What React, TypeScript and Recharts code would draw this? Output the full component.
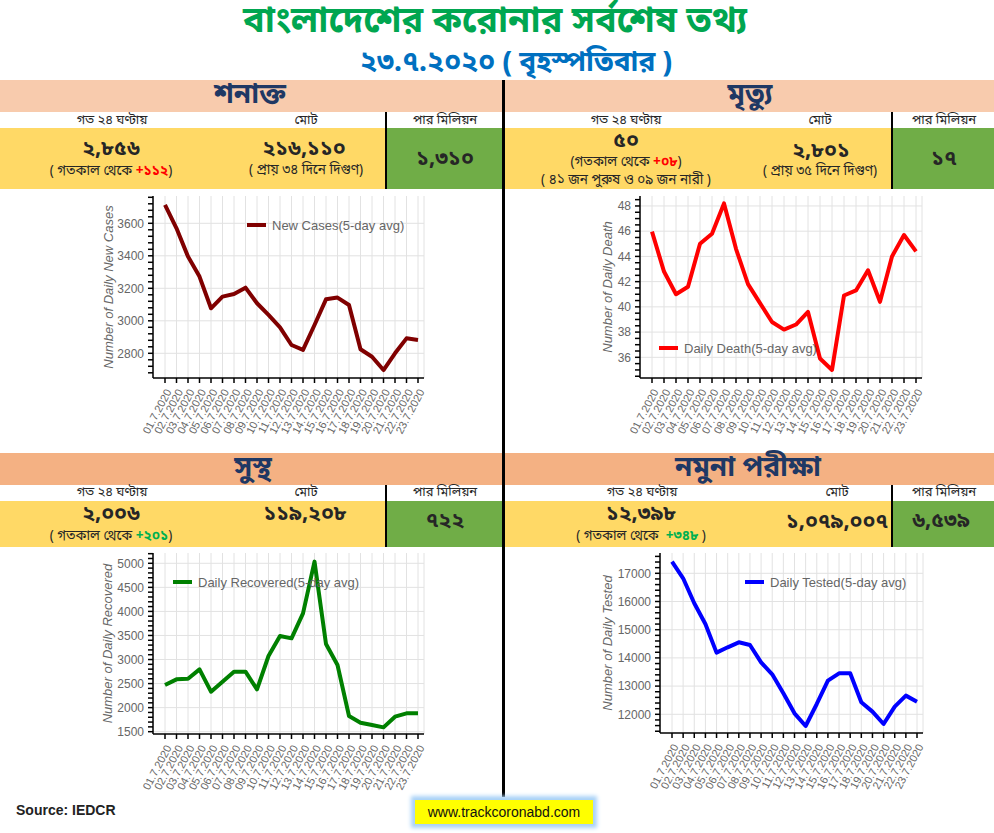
import React from "react";
import { CartesianGrid, Line, LineChart, XAxis, YAxis } from "recharts";

const dates = [
  "01.7.2020", "02.7.2020", "03.7.2020", "04.7.2020", "05.7.2020", "06.7.2020",
  "07.7.2020", "08.7.2020", "09.7.2020", "10.7.2020", "11.7.2020", "12.7.2020",
  "13.7.2020", "14.7.2020", "15.7.2020", "16.7.2020", "17.7.2020", "18.7.2020",
  "19.7.2020", "20.7.2020", "21.7.2020", "22.7.2020", "23.7.2020",
];

const newCases = [3713, 3569, 3395, 3272, 3077, 3149, 3165, 3204, 3108, 3036, 2960, 2851, 2821, 2974, 3132, 3143, 3097, 2825, 2779, 2697, 2800, 2892, 2882];
const deaths = [45.96, 42.8, 41.0, 41.6, 45.0, 45.8, 48.2, 44.6, 41.8, 40.3, 38.8, 38.2, 38.6, 39.6, 35.9, 35.0, 40.9, 41.3, 42.9, 40.4, 44.0, 45.7, 44.4];
const recovered = [2470, 2588, 2600, 2796, 2332, 2540, 2747, 2747, 2380, 3073, 3489, 3440, 3960, 5035, 3323, 2886, 1826, 1687, 1638, 1590, 1812, 1881, 1881];
const tested = [17414, 16823, 15936, 15203, 14187, 14376, 14553, 14459, 13844, 13418, 12745, 12035, 11586, 12366, 13194, 13454, 13454, 12425, 12094, 11657, 12272, 12662, 12449];

const newCasesTicks = [2800, 3000, 3200, 3400, 3600];
const deathTicks = [36, 38, 40, 42, 44, 46, 48];
const recoveredTicks = [1500, 2000, 2500, 3000, 3500, 4000, 4500, 5000];
const testedTicks = [12000, 13000, 14000, 15000, 16000, 17000];

const BN = "'Noto Sans Bengali','Lohit Bengali','Noto Sans',sans-serif";
const SANS = "'Liberation Sans', Arial, sans-serif";

function minorTicks(domain: number[], step: number) {
  const out: number[] = [];
  for (let i = Math.ceil(domain[0] / step); i <= Math.floor(domain[1] / step); i++) {
    out.push(i * step);
  }
  return out;
}

type ChartProps = {
  left: number;
  top: number;
  width: number;
  height: number;
  values: number[];
  color: string;
  domain: number[];
  majors: number[];
  step: number;
  yLabel: string;
  yAxisWidth: number;
  labelOffset: number;
  legend: string;
  legendLeft: number;
  legendTop: number;
};

// width = distance from left edge to the right end of the plot; 24px extra keep rotated labels whole
function StatChart(p: ChartProps) {
  const rows = dates.map((d, i) => ({ date: d, value: p.values[i] }));
  const ticks = minorTicks(p.domain, p.step);
  return (
    <div style={{ position: "absolute", left: p.left, top: p.top }}>
      <LineChart
        width={p.width + 24}
        height={p.height}
        data={rows}
        margin={{ top: 10, right: 24, left: 0, bottom: 0 }}
      >
        <CartesianGrid stroke="#e2e2e2" horizontalValues={p.majors} />
        <XAxis
          dataKey="date"
          interval={0}
          height={70}
          padding={{ left: 12, right: 6 }}
          angle={-62}
          textAnchor="end"
          tickSize={5}
          tickMargin={5}
          tick={{ fontSize: 11, fill: "#666", fontFamily: SANS }}
          stroke="#000"
          strokeWidth={1.5}
        />
        <YAxis
          type="number"
          domain={p.domain}
          ticks={ticks}
          interval={0}
          width={p.yAxisWidth}
          tickSize={5}
          tickMargin={4}
          allowDataOverflow
          tickFormatter={(v: number) => (p.majors.includes(v) ? String(v) : "")}
          tick={{ fontSize: 12, fill: "#666", fontFamily: SANS }}
          stroke="#000"
          strokeWidth={1.5}
          label={{
            value: p.yLabel,
            angle: -90,
            position: "insideLeft",
            offset: p.labelOffset,
            style: { textAnchor: "middle", fontSize: 13, fill: "#666", fontStyle: "italic", fontFamily: SANS },
          }}
        />
        <Line
          type="linear"
          dataKey="value"
          stroke={p.color}
          strokeWidth={4}
          strokeLinejoin="round"
          dot={false}
          isAnimationActive={false}
        />
      </LineChart>
      <div
        style={{
          position: "absolute",
          left: p.legendLeft,
          top: p.legendTop - 8,
          height: 16,
          display: "flex",
          alignItems: "center",
          whiteSpace: "nowrap",
          fontFamily: SANS,
          fontSize: 13,
          color: "#666",
        }}
      >
        <span style={{ display: "inline-block", width: 19, height: 4, background: p.color, marginRight: 6 }} />
        {p.legend}
      </div>
    </div>
  );
}

function T({ x, y, size, color = "#262626", bold = false, children, font = BN }: any) {
  return (
    <div
      style={{
        position: "absolute",
        left: x,
        top: y,
        transform: "translate(-50%,-50%)",
        whiteSpace: "nowrap",
        fontSize: size,
        color,
        fontWeight: bold ? 700 : 400,
        fontFamily: font,
        lineHeight: 1,
      }}
    >
      {children}
    </div>
  );
}

function Box({ x, y, w, h, bg }: any) {
  return <div style={{ position: "absolute", left: x, top: y, width: w, height: h, background: bg }} />;
}

export default function App() {
  const red = { color: "#ff0000", fontWeight: 700 };
  const green = { color: "#00b050", fontWeight: 700 };
  return (
    <div
      style={{
        position: "absolute",
        left: 0,
        top: 0,
        width: 994,
        height: 833,
        background: "#fff",
        overflow: "hidden",
      }}
    >
      <T x={495} y={23} size={36} color="#00a650" bold>বাংলাদেশের করোনার সর্বশেষ তথ্য</T>
      <T x={516} y={64} size={28} color="#0070c0" bold>২৩.৭.২০২০ ( বৃহস্পতিবার )</T>

      {/* top band */}
      <Box x={0} y={80} w={994} h={32} bg="#f8cbad" />
      <Box x={0} y={128} w={994} h={61} bg="#ffd966" />
      <Box x={387} y={128} w={115} h={61} bg="#70ad47" />
      <Box x={893} y={128} w={101} h={61} bg="#70ad47" />
      <Box x={385} y={112} w={2} h={77} bg="#000" />
      <Box x={891} y={112} w={2} h={77} bg="#000" />

      {/* bottom band */}
      <Box x={0} y={453} w={994} h={32} bg="#f4b183" />
      <Box x={0} y={501} w={994} h={46} bg="#ffd966" />
      <Box x={387} y={501} w={115} h={46} bg="#70ad47" />
      <Box x={893} y={501} w={101} h={46} bg="#70ad47" />
      <Box x={385} y={485} w={2} h={62} bg="#000" />
      <Box x={891} y={485} w={2} h={62} bg="#000" />

      <Box x={502} y={80} w={3} h={717} bg="#000" />

      <T x={250} y={96} size={28} color="#1f3864" bold>শনাক্ত</T>
      <T x={750} y={96} size={28} color="#1f3864" bold>মৃত্যু</T>
      <T x={112} y={120} size={13}>গত ২৪ ঘণ্টায়</T>
      <T x={306} y={120} size={13}>মোট</T>
      <T x={445} y={120} size={13}>পার মিলিয়ন</T>
      <T x={626} y={120} size={13}>গত ২৪ ঘণ্টায়</T>
      <T x={820} y={120} size={13}>মোট</T>
      <T x={944} y={120} size={13}>পার মিলিয়ন</T>

      <T x={111} y={150} size={21} bold>২,৮৫৬</T>
      <T x={111} y={173} size={13.5}>( গতকাল থেকে <span style={red}>+১১২</span>)</T>
      <T x={304} y={150} size={21} bold>২১৬,১১০</T>
      <T x={306} y={172} size={13.5}>( প্রায় ৩৪ দিনে দিগুণ)</T>
      <T x={445} y={160} size={21} bold>১,৩১০</T>
      <T x={626} y={142} size={21} bold>৫০</T>
      <T x={626} y={164} size={13.5}>(গতকাল থেকে <span style={red}>+০৮</span>)</T>
      <T x={626} y={182} size={13.5}>( ৪১ জন পুরুষ ও ০৯ জন নারী )</T>
      <T x={821} y={152} size={21} bold>২,৮০১</T>
      <T x={820} y={173} size={13.5}>( প্রায় ৩৫ দিনে দিগুণ)</T>
      <T x={944} y={160} size={21} bold>১৭</T>

      <T x={253} y={469} size={28} color="#1f3864" bold>সুস্থ</T>
      <T x={748} y={469} size={28} color="#1f3864" bold>নমুনা পরীক্ষা</T>
      <T x={112} y={492} size={13}>গত ২৪ ঘণ্টায়</T>
      <T x={306} y={492} size={13}>মোট</T>
      <T x={445} y={492} size={13}>পার মিলিয়ন</T>
      <T x={642} y={492} size={13}>গত ২৪ ঘণ্টায়</T>
      <T x={837} y={492} size={13}>মোট</T>
      <T x={944} y={492} size={13}>পার মিলিয়ন</T>

      <T x={111} y={515} size={21} bold>২,০০৬</T>
      <T x={111} y={538} size={13.5}>( গতকাল থেকে <span style={green}>+২০১</span>)</T>
      <T x={305} y={515} size={21} bold>১১৯,২০৮</T>
      <T x={445} y={522} size={21} bold>৭২২</T>
      <T x={641} y={515} size={21} bold>১২,৩৯৮</T>
      <T x={641} y={538} size={13.5}>( গতকাল থেকে &nbsp;<span style={green}>+৩৪৮</span> )</T>
      <T x={837} y={523} size={21} bold>১,০৭৯,০০৭</T>
      <T x={941} y={522} size={21} bold>৬,৫৩৯</T>

      <StatChart
        left={90} top={186} width={334} height={262}
        values={newCases} color="#800000"
        domain={[2648, 3768]} majors={newCasesTicks} step={40}
        yLabel="Number of Daily New Cases" yAxisWidth={63} labelOffset={18.5}
        legend="New Cases(5-day avg)" legendLeft={157} legendTop={39}
      />
      <StatChart
        left={580} top={186} width={342} height={262}
        values={deaths} color="#ff0000"
        domain={[34.36, 48.79]} majors={deathTicks} step={0.5}
        yLabel="Number of Daily Death" yAxisWidth={60} labelOffset={27.5}
        legend="Daily Death(5-day avg)" legendLeft={79} legendTop={162}
      />
      <StatChart
        left={90} top={543} width={334} height={261}
        values={recovered} color="#008000"
        domain={[1452, 5214]} majors={recoveredTicks} step={100}
        yLabel="Number of Daily Recovered" yAxisWidth={63} labelOffset={17.5}
        legend="Daily Recovered(5-day avg)" legendLeft={83} legendTop={39}
      />
      <StatChart
        left={580} top={543} width={343} height={260}
        values={tested} color="#0000ff"
        domain={[11337, 17720]} majors={testedTicks} step={200}
        yLabel="Number of Daily Tested" yAxisWidth={80} labelOffset={27.5}
        legend="Daily Tested(5-day avg)" legendLeft={165} legendTop={39}
      />

      <div
        style={{
          position: "absolute",
          left: 16,
          top: 802,
          fontFamily: SANS,
          fontWeight: 700,
          fontSize: 14,
          color: "#222",
        }}
      >
        Source: IEDCR
      </div>
      <div
        style={{
          position: "absolute",
          left: 415,
          top: 800,
          width: 178,
          height: 24,
          background: "#ffff00",
          boxShadow: "0 0 4px 4px #a9d2f7",
          display: "flex",
          alignItems: "center",
          justifyContent: "center",
          fontFamily: SANS,
          fontSize: 14,
          color: "#111",
        }}
      >
        www.trackcoronabd.com
      </div>
    </div>
  );
}
